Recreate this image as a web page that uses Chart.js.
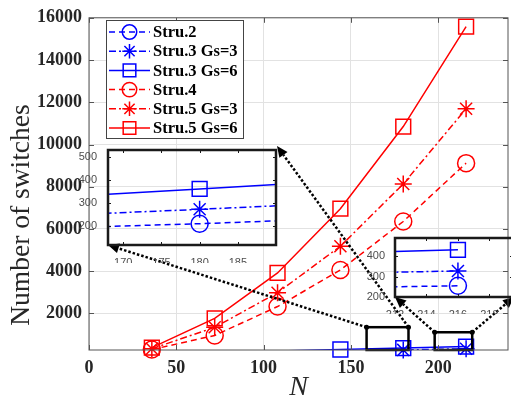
<!DOCTYPE html>
<html>
<head>
<meta charset="utf-8">
<script src="https://cdn.jsdelivr.net/npm/chart.js"></script>
<style>
  html, body { margin: 0; padding: 0; background: #fff; overflow: hidden; }
  #wrap { position: relative; width: 511px; height: 399px; overflow: hidden; }
  #wrap canvas { position: absolute; }
</style>
</head>
<body>
<div id="wrap">
  <canvas id="mainChart" width="520" height="399" style="left:0;top:0"></canvas>
  <canvas id="zoom180" width="212" height="125" style="left:76px;top:138px"></canvas>
  <canvas id="zoom216" width="160" height="88" style="left:365px;top:226px"></canvas>
</div>
<script>
// Network size N and switch counts per structure
const nValues = [36, 72, 108, 144, 180, 216];
const stru2 = [48, 90, 133, 176, 212, 255];
const stru3Gs3 = [60, 112, 168, 223, 274, 328];
const stru3Gs6 = [84, 150, 222, 292, 362, 432];
const stru4 = [290, 960, 2328, 4060, 6355, 9117];
const stru5Gs3 = [330, 1344, 2983, 5184, 8134, 11692];
const stru5Gs6 = [380, 1766, 3920, 6963, 10850, 15580];
const seriesNames = ['Stru.2', 'Stru.3 Gs=3', 'Stru.3 Gs=6', 'Stru.4', 'Stru.5 Gs=3', 'Stru.5 Gs=6'];

const xTicks = [0, 50, 100, 150, 200];
const yTicks = [2000, 4000, 6000, 8000, 10000, 12000, 14000, 16000];
const zoomA_xTicks = [170, 175, 180, 185];
const zoomA_yTicks = [200, 300, 400, 500];
const zoomB_xTicks = [212, 214, 216, 218];
const zoomB_yTicks = [200, 300, 400];

const Y_MIN = 270;
const seriesValues = [stru2, stru3Gs3, stru3Gs6, stru4, stru5Gs3, stru5Gs6];

const BLUE = '#0000ff', RED = '#ff0000';
const DASHED = [6, 4], DASHDOT = [7, 3, 2, 3];
const seriesStyles = [
  { color: BLUE, dash: DASHED, point: 'circle', r: 8.5 },
  { color: BLUE, dash: DASHDOT, point: 'star', r: 8.5 },
  { color: BLUE, dash: [], point: 'rect', r: 10.5 },
  { color: RED, dash: DASHED, point: 'circle', r: 8.5 },
  { color: RED, dash: DASHDOT, point: 'star', r: 8.5 },
  { color: RED, dash: [], point: 'rect', r: 10.5 }
];

// inset boxes in page pixels, and the marked regions in data units
const insetA = { left: 108, top: 146, right: 277, bottom: 245 };
const insetB = { left: 395, top: 232, right: 514, bottom: 297 };
const zoomRegions = [
  { x0: 159, x1: 183, y0: Y_MIN, y1: 1350, inset: insetA, corners: [['left', 'bottom'], ['right', 'top']] },
  { x0: 198, x1: 219.5, y0: Y_MIN, y1: 1110, inset: insetB, corners: [['left', 'bottom'], ['right', 'bottom']] }
];

// line colour that stops at the bottom of the plot area, so markers sitting
// on the axis stay whole while the lines below it are cut off
function cutBelowAxis(color) {
  return ctx => {
    const area = ctx.chart.chartArea;
    if (!area) return color;
    const g = ctx.chart.ctx.createLinearGradient(0, area.top, 0, area.bottom + 12);
    const f = (area.bottom - area.top) / (area.bottom + 12 - area.top);
    g.addColorStop(0, color);
    g.addColorStop(f, color);
    g.addColorStop(Math.min(1, f + 0.001), 'rgba(0,0,0,0)');
    g.addColorStop(1, 'rgba(0,0,0,0)');
    return g;
  };
}

function buildDatasets(floor) {
  return seriesValues.map((vals, i) => {
    const s = seriesStyles[i];
    const ds = {
      label: seriesNames[i],
      data: nValues.map((n, j) => ({ x: n, y: vals[j] })),
      borderColor: s.color,
      backgroundColor: 'transparent',
      pointBackgroundColor: 'transparent',
      pointBorderColor: s.color,
      borderWidth: 1.5,
      pointBorderWidth: 1.5,
      borderDash: s.dash,
      pointStyle: s.point,
      pointRadius: s.r,
      tension: 0,
      fill: false
    };
    if (floor != null) {
      ds.borderColor = cutBelowAxis(s.color);
      ds.pointRadius = ctx => (ctx.raw && ctx.raw.y < floor ? 0 : s.r);
      ds.clip = { left: 0, top: 0, right: 0, bottom: 12 };
    }
    return ds;
  });
}

function fixedTicks(list) {
  return scale => { scale.ticks = list.map(v => ({ value: v })); };
}

const plainNumber = v => String(v);

function boxFrame(color, width, tickLen) {
  return {
    id: 'boxFrame',
    afterDraw(chart) {
      const { ctx, chartArea: a, scales } = chart;
      ctx.save();
      ctx.strokeStyle = color;
      ctx.lineWidth = width;
      ctx.strokeRect(a.left, a.top, a.right - a.left, a.bottom - a.top);
      ctx.lineWidth = 1;
      ctx.beginPath();
      scales.x.ticks.forEach(t => {
        const x = Math.round(scales.x.getPixelForValue(t.value)) + 0.5;
        ctx.moveTo(x, a.bottom); ctx.lineTo(x, a.bottom - tickLen);
        ctx.moveTo(x, a.top); ctx.lineTo(x, a.top + tickLen);
      });
      scales.y.ticks.forEach(t => {
        const y = Math.round(scales.y.getPixelForValue(t.value)) + 0.5;
        ctx.moveTo(a.left, y); ctx.lineTo(a.left + tickLen, y);
        ctx.moveTo(a.right, y); ctx.lineTo(a.right - tickLen, y);
      });
      ctx.stroke();
      ctx.restore();
    }
  };
}

function drawArrow(ctx, x0, y0, x1, y1) {
  const ang = Math.atan2(y1 - y0, x1 - x0);
  const len = 11, half = 5;
  const c = Math.cos(ang), s = Math.sin(ang);
  ctx.save();
  ctx.strokeStyle = '#000';
  ctx.fillStyle = '#000';
  ctx.lineWidth = 2.5;
  ctx.setLineDash([2.5, 2]);
  ctx.beginPath();
  ctx.moveTo(x0, y0);
  ctx.lineTo(x1 - c * len, y1 - s * len);
  ctx.stroke();
  ctx.setLineDash([]);
  ctx.beginPath();
  ctx.moveTo(x1, y1);
  ctx.lineTo(x1 - c * len - s * half, y1 - s * len + c * half);
  ctx.lineTo(x1 - c * len + s * half, y1 - s * len - c * half);
  ctx.closePath();
  ctx.fill();
  ctx.beginPath();
  ctx.arc(x0, y0, 2.5, 0, Math.PI * 2);
  ctx.fill();
  ctx.restore();
}

const zoomMarks = {
  id: 'zoomMarks',
  afterDatasetsDraw(chart) {
    const { ctx, scales: { x, y } } = chart;
    zoomRegions.forEach(z => {
      const l = x.getPixelForValue(z.x0), r = x.getPixelForValue(z.x1);
      const t = y.getPixelForValue(z.y1), b = y.getPixelForValue(z.y0);
      ctx.save();
      ctx.strokeStyle = '#000';
      ctx.lineWidth = 2.5;
      ctx.strokeRect(l, t, r - l, b - t);
      ctx.restore();
      drawArrow(ctx, l, t, z.inset[z.corners[0][0]], z.inset[z.corners[0][1]]);
      drawArrow(ctx, r, t, z.inset[z.corners[1][0]], z.inset[z.corners[1][1]]);
    });
  }
};

const legendBox = {
  id: 'legendBox',
  afterDraw(chart) {
    const ctx = chart.ctx;
    ctx.save();
    ctx.fillStyle = '#fff';
    ctx.fillRect(106, 20, 137, 118);
    ctx.strokeStyle = '#444';
    ctx.lineWidth = 1;
    ctx.strokeRect(106.5, 20.5, 137, 118);
    chart.data.datasets.forEach((ds, i) => {
      const s = seriesStyles[i];
      const yRow = 32 + i * 19.2;
      ctx.strokeStyle = s.color;
      ctx.lineWidth = 1.5;
      ctx.setLineDash(s.dash);
      ctx.beginPath();
      ctx.moveTo(109, yRow);
      ctx.lineTo(150, yRow);
      ctx.stroke();
      ctx.setLineDash([]);
      ctx.fillStyle = 'rgba(0,0,0,0)';
      Chart.helpers.drawPoint(ctx, { pointStyle: s.point, radius: s.r * 0.85, rotation: 0, borderWidth: 1.5 }, 129.5, yRow);
      ctx.fillStyle = '#000';
      ctx.font = 'bold 16.5px "Liberation Serif"';
      ctx.textBaseline = 'middle';
      ctx.textAlign = 'left';
      ctx.fillText(ds.label, 153, yRow + 1);
    });
    ctx.restore();
  }
};

const yTitle = {
  id: 'yTitle',
  afterDraw(chart) {
    const ctx = chart.ctx;
    ctx.save();
    ctx.translate(22, 215);
    ctx.rotate(-Math.PI / 2);
    ctx.fillStyle = '#262626';
    ctx.font = '27.5px "Liberation Serif"';
    ctx.textAlign = 'center';
    ctx.textBaseline = 'middle';
    ctx.fillText('Number of switches', 0, 0);
    ctx.restore();
  }
};

const serifBold = { family: 'Liberation Serif', size: 18, weight: 'bold' };

new Chart(document.getElementById('mainChart'), {
  type: 'line',
  data: { datasets: buildDatasets(Y_MIN) },
  options: {
    responsive: false,
    animation: false,
    events: [],
    layout: { padding: { top: 15, right: 8, left: 0, bottom: 0 } },
    plugins: { legend: { display: false }, tooltip: { enabled: false } },
    scales: {
      x: {
        type: 'linear', min: 0, max: 240,
        afterBuildTicks: fixedTicks(xTicks),
        afterFit: s => { s.height = 49; },
        grid: { color: '#e2e2e2', drawTicks: false },
        border: { display: false },
        ticks: { padding: 8, color: '#262626', font: serifBold, autoSkip: false, maxRotation: 0, callback: plainNumber },
        title: { display: true, text: 'N', color: '#262626', padding: 0,
          font: { family: 'Liberation Serif', size: 28, style: 'italic', lineHeight: 0.8 } }
      },
      y: {
        type: 'linear', min: Y_MIN, max: 16000,
        afterBuildTicks: fixedTicks(yTicks),
        afterFit: s => { s.width = 89; },
        grid: { color: '#e2e2e2', drawTicks: false },
        border: { display: false },
        ticks: { padding: 7, color: '#262626', font: serifBold, autoSkip: false, callback: plainNumber }
      }
    }
  },
  plugins: [boxFrame('#555', 1, 5), zoomMarks, legendBox, yTitle]
});

function insetChart(id, cfg) {
  const sans = { family: 'Liberation Sans', size: 11 };
  new Chart(document.getElementById(id), {
    type: 'line',
    data: { datasets: buildDatasets(null) },
    options: {
      responsive: false,
      animation: false,
      events: [],
      layout: { padding: { top: cfg.padTop, right: cfg.padRight, left: 0, bottom: 0 } },
      plugins: { legend: { display: false }, tooltip: { enabled: false } },
      scales: {
        x: {
          type: 'linear', min: cfg.xMin, max: cfg.xMax,
          afterBuildTicks: fixedTicks(cfg.xTicks),
          afterFit: s => { s.height = cfg.axisH; },
          grid: { display: false },
          border: { display: false },
          ticks: { padding: 3, color: '#4d4d4d', font: sans, autoSkip: false, maxRotation: 0, callback: plainNumber }
        },
        y: {
          type: 'linear', min: cfg.yMin, max: cfg.yMax,
          afterBuildTicks: fixedTicks(cfg.yTicks),
          afterFit: s => { s.width = cfg.axisW; },
          grid: { display: false },
          border: { display: false },
          ticks: { padding: cfg.yPad, color: '#4d4d4d', font: sans, autoSkip: false, callback: plainNumber }
        }
      }
    },
    plugins: [boxFrame('#1a1a1a', 2.5, 3)]
  });
}

insetChart('zoom180', {
  xMin: 168, xMax: 190, yMin: 120, yMax: 530,
  xTicks: zoomA_xTicks, yTicks: zoomA_yTicks,
  axisW: 32, axisH: 18, padTop: 8, padRight: 11, yPad: 3
});

insetChart('zoom216', {
  xMin: 212, xMax: 219.5, yMin: 200, yMax: 490,
  xTicks: zoomB_xTicks, yTicks: zoomB_yTicks,
  axisW: 30, axisH: 17, padTop: 6, padRight: 11, yPad: 2
});
</script>
</body>
</html>
